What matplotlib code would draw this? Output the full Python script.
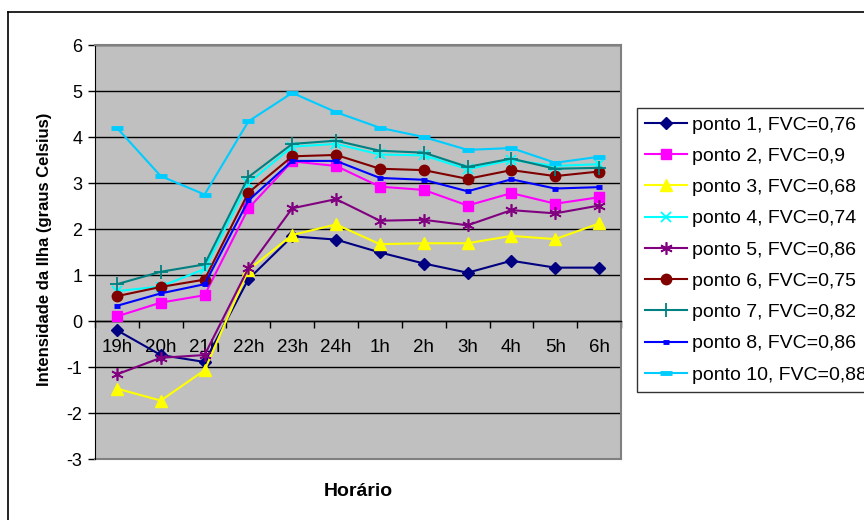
import matplotlib.pyplot as plt
from matplotlib.lines import Line2D

plt.rcParams['font.family'] = ['Liberation Sans', 'DejaVu Sans']
plt.rcParams['axes.unicode_minus'] = False

# Hourly heat-island intensity per measurement point
horas = ['19h', '20h', '21h', '22h', '23h', '24h', '1h', '2h', '3h', '4h', '5h', '6h']

ponto1 = [-0.20, -0.74, -0.89, 0.91, 1.84, 1.77, 1.49, 1.25, 1.05, 1.31, 1.16, 1.16]
ponto2 = [0.10, 0.40, 0.56, 2.45, 3.47, 3.37, 2.92, 2.85, 2.51, 2.78, 2.55, 2.69]
ponto3 = [-1.47, -1.73, -1.07, 1.11, 1.87, 2.10, 1.67, 1.69, 1.69, 1.85, 1.78, 2.12]
ponto4 = [0.65, 0.75, 1.13, 3.00, 3.79, 3.85, 3.62, 3.60, 3.30, 3.50, 3.37, 3.41]
ponto5 = [-1.16, -0.80, -0.74, 1.15, 2.45, 2.65, 2.18, 2.20, 2.08, 2.41, 2.34, 2.51]
ponto6 = [0.54, 0.74, 0.90, 2.79, 3.58, 3.61, 3.31, 3.28, 3.09, 3.28, 3.15, 3.25]
ponto7 = [0.80, 1.07, 1.23, 3.13, 3.85, 3.92, 3.70, 3.66, 3.35, 3.53, 3.31, 3.33]
ponto8 = [0.33, 0.60, 0.80, 2.62, 3.48, 3.48, 3.11, 3.07, 2.82, 3.08, 2.88, 2.91]
ponto10 = [4.20, 3.15, 2.75, 4.34, 4.96, 4.54, 4.20, 4.00, 3.72, 3.76, 3.44, 3.57]

rotulos = ['ponto 1, FVC=0,76', 'ponto 2, FVC=0,9', 'ponto 3, FVC=0,68',
           'ponto 4, FVC=0,74', 'ponto 5, FVC=0,86', 'ponto 6, FVC=0,75',
           'ponto 7, FVC=0,82', 'ponto 8, FVC=0,86', 'ponto 10, FVC=0,88']

series = [ponto1, ponto2, ponto3, ponto4, ponto5, ponto6, ponto7, ponto8, ponto10]
cores = ['#000080', '#FF00FF', '#FFFF00', '#00FFFF', '#800080',
         '#800000', '#008080', '#0000FF', '#00CCFF']
# (marker, size, edge width)
marcadores = [('D', 6, 1), ('s', 7, 1), ('^', 8, 1), ('x', 7, 1.3), ((6, 2, 0), 9, 1.2),
              ('o', 7.5, 1), ('+', 10, 1.3), ('_', 5, 3.5), ('_', 9, 3.5)]

fig = plt.figure(figsize=(8.64, 5.2), dpi=100)
ax = fig.add_axes([95 / 864, 1 - 459 / 520, 526 / 864, 414 / 520])
ax.set_facecolor('#C0C0C0')

x = list(range(len(horas)))
for y, cor, (m, ms, mew), rot in zip(series, cores, marcadores, rotulos):
    ax.plot(x, y, color=cor, lw=1.5, marker=m, markersize=ms, markeredgewidth=mew,
            markerfacecolor=cor, markeredgecolor=cor, label=rot, zorder=3)

ax.set_xlim(-0.5, len(horas) - 0.5)
ax.set_ylim(-3, 6)
ax.set_yticks(range(-3, 7))
ax.yaxis.grid(True, color='black', lw=1)
ax.set_axisbelow(True)

# category axis crosses at zero; tick marks between categories
ax.spines['bottom'].set_position(('data', 0))
ax.spines['bottom'].set_color('black')
ax.spines['bottom'].set_linewidth(1)
ax.set_xticks([i + 0.5 for i in range(-1, len(horas))])
ax.set_xticklabels([])
ax.set_xticks(x, minor=True)
ax.set_xticklabels(horas, minor=True)
ax.tick_params(axis='x', which='major', direction='out', length=5, width=1)
ax.tick_params(axis='x', which='minor', length=0, pad=13, labelsize=13.5)
ax.tick_params(axis='y', direction='out', length=5, width=1, pad=4, labelsize=13)

for lado in ['top', 'right']:
    ax.spines[lado].set_color('#808080')
    ax.spines[lado].set_linewidth(1.5)
ax.spines['left'].set_color('black')

# frame piece along the bottom of the plot area
ax.add_line(Line2D([0, 1], [0, 0], transform=ax.transAxes, color='#808080', lw=1.5,
                   clip_on=False))

fig.text(45 / 864, 1 - 249 / 520, 'Intensidade da Ilha (graus Celsius)', rotation=90,
         ha='center', va='center', fontsize=12, fontweight='bold')
fig.text(358 / 864, 1 - 492 / 520, 'Horário', ha='center', va='center',
         fontsize=14, fontweight='bold')

leg = fig.legend(loc='upper left', bbox_to_anchor=(637 / 864, 1 - 108 / 520),
                 fontsize=14, frameon=True, fancybox=False, edgecolor='black',
                 handlelength=2.15, handletextpad=0.26, labelspacing=0.7,
                 borderpad=0.42, borderaxespad=0)
leg.get_frame().set_linewidth(1)

# chart area border
fig.add_artist(Line2D([8 / 864, 1], [1 - 12 / 520, 1 - 12 / 520], color='black', lw=1.2))
fig.add_artist(Line2D([8 / 864, 8 / 864], [0, 1 - 12 / 520], color='black', lw=1.2))

fig.savefig('out.png', dpi=100)
